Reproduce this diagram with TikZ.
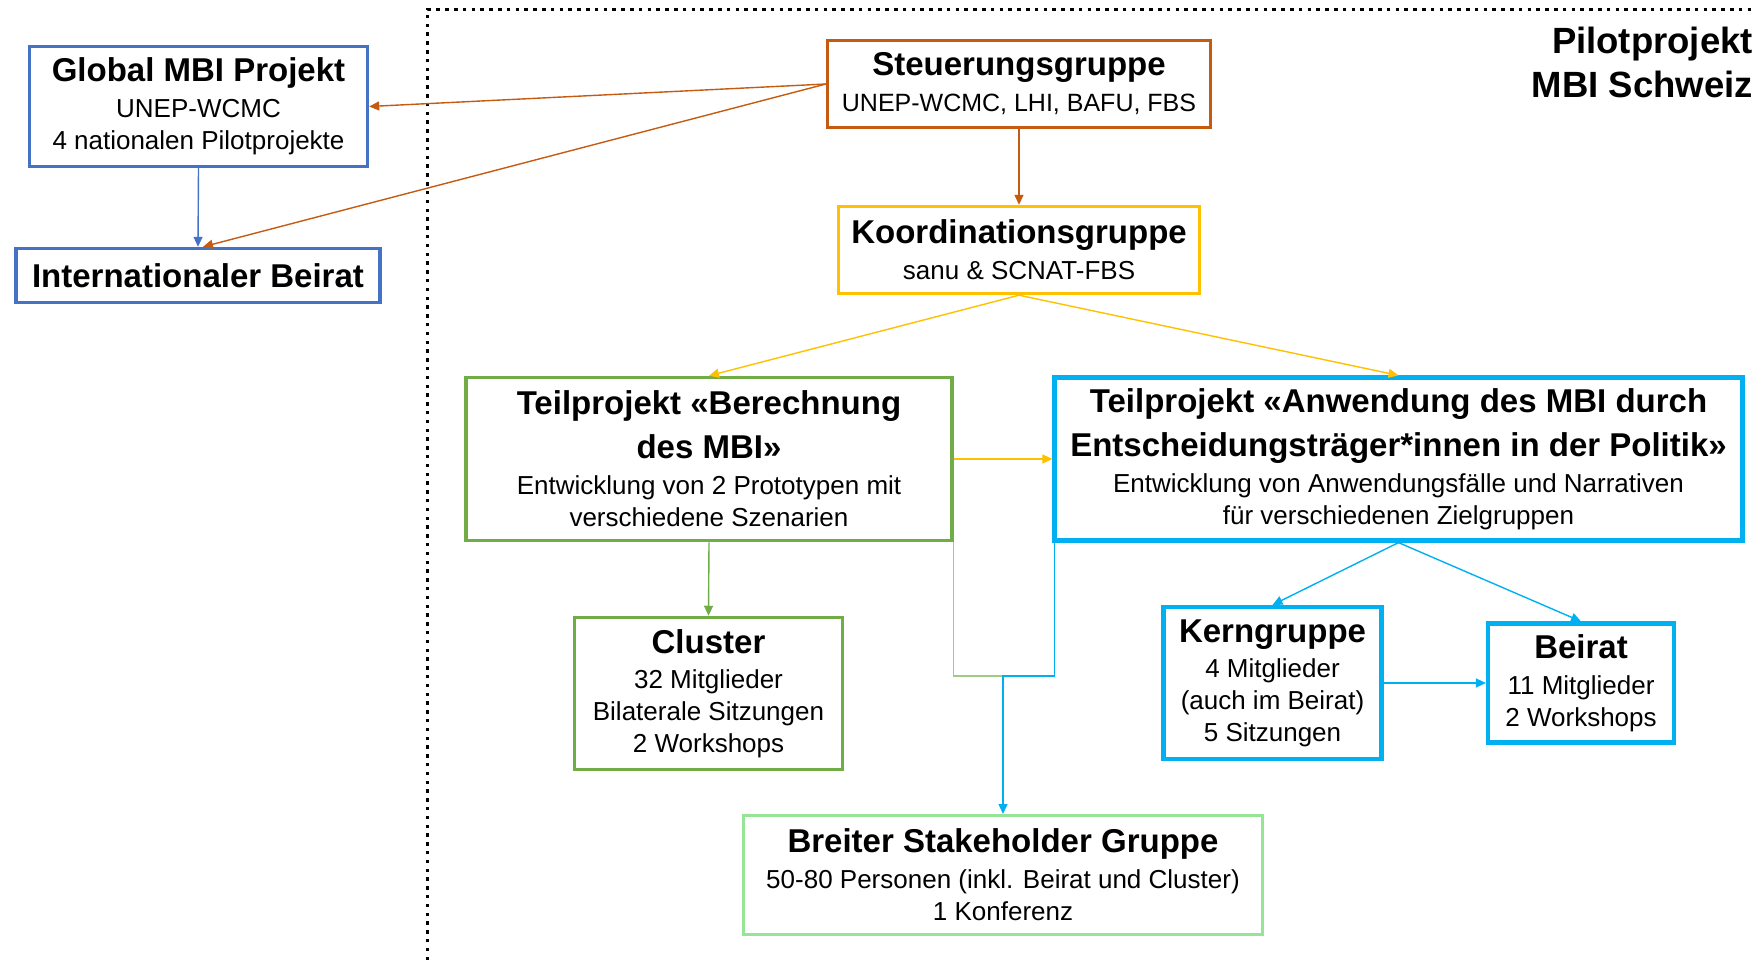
\documentclass[tikz,border=0pt]{standalone}
\usepackage{fontspec}
\setmainfont{Liberation Sans}
\usetikzlibrary{arrows.meta}
\definecolor{cOr}{HTML}{C55A11}
\definecolor{cYe}{HTML}{FFC000}
\definecolor{cGr}{HTML}{70AD47}
\definecolor{cBl}{HTML}{4472C4}
\definecolor{cCy}{HTML}{00B0F0}
\definecolor{cLg}{HTML}{96E596}
\definecolor{cGl}{HTML}{9FCC85}
\newcommand\ttl[1]{{\fontsize{33}{40}\selectfont\bfseries #1}}
\begin{document}
\begin{tikzpicture}[x=1pt,y=-1pt,
  box/.style={draw=#1, line width=3.4pt, fill=white, inner sep=0pt, align=center,
    font=\fontsize{26}{32}\selectfont},
  con/.style={draw=#1, line width=1.4pt, -{Triangle[length=10pt,width=9pt]}},
  plain/.style={draw=#1, line width=1.4pt},
  dotline/.style={line width=3.5pt, dash pattern=on 3.5pt off 5.3pt, black}
]
\useasboundingbox (0,0) rectangle (1755,960);

\draw[dotline] (427.7,960) -- (427.7,9.5) -- (1755,9.5);

\node[anchor=north east, align=right, inner sep=0pt,
  font=\fontsize{36.5}{44}\selectfont\bfseries] (pilot) at (1753,27) {Pilotprojekt\\MBI Schweiz};

\node[box=cBl, minimum width=338pt, minimum height=120pt] (glob) at (198.5,106.5)
  {\ttl{Global MBI Projekt}\\[4pt] UNEP-WCMC\\ 4 nationalen Pilotprojekte};
\node[box=cBl, minimum width=364pt, minimum height=54pt] (intb) at (198,275.5)
  {\ttl{Internationaler Beirat}};
\node[box=cOr, line width=3.1pt, minimum width=383pt, minimum height=87pt] (steu) at (1019,84)
  {\ttl{Steuerungsgruppe}\\[4pt] {\fontsize{25}{32}\selectfont UNEP-WCMC, LHI, BAFU, FBS}};
\node[box=cYe, minimum width=361pt, minimum height=87pt] (koord) at (1019,250)
  {\ttl{Koordinationsgruppe}\\[4pt] sanu \& SCNAT-FBS};
\node[box=cGr, line width=3.5pt, minimum width=486pt, minimum height=163pt] (ber) at (709,459)
  {\ttl{Teilprojekt «Berechnung}\\[12pt]\ttl{des MBI»}\\[4pt] Entwicklung von 2 Prototypen mit\\ verschiedene Szenarien};
\node[box=cCy, line width=4.2pt, minimum width=688pt, minimum height=163pt] (anw) at (1398.5,459)
  {\ttl{Teilprojekt «Anwendung des MBI durch}\\[12pt]\ttl{Entscheidungsträger*innen in der Politik»}\\[4pt] Entwicklung von Anwendungsfälle und Narrativen\\ für verschiedenen Zielgruppen};
\node[box=cGr, line width=3.5pt, minimum width=268pt, minimum height=152pt] (clu) at (708.5,693.5)
  {\ttl{Cluster}\\[3pt] 32 Mitglieder\\ Bilaterale Sitzungen\\ 2 Workshops};
\node[box=cCy, line width=4.2pt, minimum width=218pt, minimum height=152pt] (kern) at (1272.5,683)
  {\ttl{Kerngruppe}\\[3pt] 4 Mitglieder\\ (auch im Beirat)\\ 5 Sitzungen};
\node[box=cCy, line width=4.2pt, minimum width=186pt, minimum height=119pt] (beir) at (1581,683)
  {\ttl{Beirat}\\[4pt] 11 Mitglieder\\ 2 Workshops};
\node[box=cLg, line width=3pt, minimum width=519pt, minimum height=119pt] (brei) at (1003,875)
  {\ttl{Breiter Stakeholder Gruppe}\\[4pt] 50-80 Personen (inkl. Beirat und Cluster)\\ 1 Konferenz};

\draw[con=cOr] (steu.west) -- (glob.east);
\draw[con=cOr] (steu.west) -- ([xshift=5pt]intb.north);
\draw[con=cBl] (glob.south) -- (intb.north);
\draw[con=cOr] (steu.south) -- (koord.north);
\draw[con=cYe] (koord.south) -- (ber.north);
\draw[con=cYe] (koord.south) -- (anw.north);
\draw[con=cYe] (ber.east) -- (anw.west);
\draw[con=cGr] (ber.south) -- (clu.north);
\coordinate (j) at (1003,676);
\draw[plain=cGl] (ber.south east) |- (j);
\draw[con=cCy] ([xshift=2pt]anw.south west) |- (j) -- (brei.north);
\draw[con=cCy] (anw.south) -- (kern.north);
\draw[con=cCy] (anw.south) -- (beir.north);
\draw[con=cCy] (kern.east) -- (beir.west);
\end{tikzpicture}
\end{document}
